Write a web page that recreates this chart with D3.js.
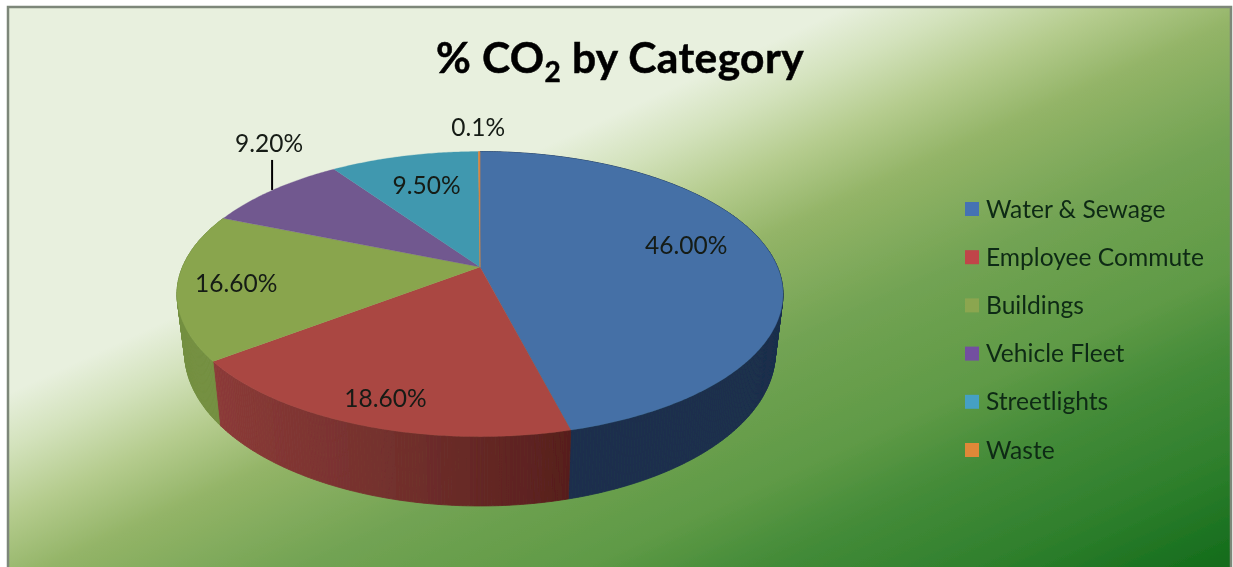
<!DOCTYPE html>
<html><head><meta charset="utf-8">
<script src="https://cdn.jsdelivr.net/npm/d3@7"></script>
<style>html,body{margin:0;padding:0;background:#fff;overflow:hidden}svg{display:block}text{font-family:Lato,"Open Sans",sans-serif}</style>
</head><body><svg id="c" width="1233" height="567"></svg>
<script>
const categories = ["Water & Sewage","Employee Commute","Buildings","Vehicle Fleet","Streetlights","Waste"];
const shares = [46.0,18.6,16.6,9.2,9.5,0.1];
const shareLabels = ["46.00%","18.60%","16.60%","9.20%","9.50%","0.1%"];
const topColors = ["#4470a6","#aa4643","#89a54e","#71588f","#4198af","#db843d"];
const legendColors = ["#4472b4","#c0444a","#8ba650","#7350a0","#44a0c4","#e08838"];
const titleParts = ["% CO","2"," by Category"];

const root=d3.select("#c");
const defs=root.append("defs");
defs.append("filter").attr("id","soft")
  .attr("filterUnits","userSpaceOnUse").attr("x",0).attr("y",0).attr("width",1233).attr("height",567)
  .append("feGaussianBlur").attr("stdDeviation",0.45);
const svg=root.append("g").attr("filter","url(#soft)");

// background gradient (stops are distances along the gradient direction)
const bgStops=[[-20,"#e8f0de"],[30,"#d3e2bc"],[90,"#b5cc8e"],[155,"#93b467"],[260,"#72a353"],[378,"#5f9a46"],[448,"#458c39"],[550,"#2e7f2c"],[643,"#146c1c"]];
const nx=0.418,ny=0.908,ox=400,oy=235;
const offset=d3.scaleLinear().domain([-20,643]).range([0,1]);
const bg=defs.append("linearGradient").attr("id","bg").attr("gradientUnits","userSpaceOnUse")
 .attr("x1",ox-20*nx).attr("y1",oy-20*ny).attr("x2",ox+643*nx).attr("y2",oy+643*ny);
bgStops.forEach(s=>bg.append("stop").attr("offset",offset(s[0])).attr("stop-color",s[1]));
svg.append("rect").attr("x",8).attr("y",7).attr("width",1223).attr("height",580)
 .attr("fill","url(#bg)").attr("stroke","#7d8779").attr("stroke-width",2.5);

// perspective projection of the pie plane
const k=-0.19;
function projector(cx,cy,B,A){
  const sx=d3.scaleLinear().domain([-1,1]).range([cx-B,cx+B]);
  const sy=d3.scaleLinear().domain([-1,1]).range([cy-A,cy+A]);
  return (a,r=1)=>{
    const u=r*Math.sin(a),v=-r*Math.cos(a),den=1+k*v;
    return [sx(u/den),sy(v/den)];
  };
}
const topP=projector(480,267,297.5,137.4);
const botP=projector(480,323,290,148.2);
const pie=d3.pie().sort(null).value(d=>d)(shares);
const line=d3.line();
const arcAngles=(a0,a1)=>{const n=Math.max(2,Math.ceil((a1-a0)/0.01));return d3.range(n+1).map(i=>a0+(a1-a0)*i/n);};

// walls: one quad per angle step between the top rim and the bottom rim
const redShade=d3.scaleLinear().domain([215,390,568]).range(["#8c3a38","#73302d","#571f1d"]);
const wallFill=[()=>"#1b2f4d",x=>redShade(x),()=>"#738f41",null,null,null];
const walls=svg.append("g");
pie.forEach((d,i)=>{
  if(!wallFill[i])return;
  d3.pairs(arcAngles(d.startAngle,d.endAngle)).forEach(([a,b])=>{
    const c=wallFill[i](botP((a+b)/2)[0]);
    walls.append("path").attr("d",line([topP(a),topP(b),botP(b),botP(a)])+"Z")
      .attr("fill",c).attr("stroke",c).attr("stroke-width",0.8);
  });
});

// top surface
const tops=svg.append("g");
pie.forEach((d,i)=>{
  const pts=[topP(0,0)].concat(arcAngles(d.startAngle,d.endAngle).map(a=>topP(a)));
  tops.append("path").attr("d",line(pts)+"Z").attr("fill",topColors[i]).attr("stroke",topColors[i]).attr("stroke-width",i===5?0.6:0.3);
});

// data labels : radial fraction and nudge
const labelPlace=[[0.7,3,-11],[0.85,3,0],[0.8,-3,1],[1,-4,-47],[0.7,2,-1],[1,-1,-25]];
pie.forEach((d,i)=>{
  const m=(d.startAngle+d.endAngle)/2,p=topP(m,labelPlace[i][0]);
  svg.append("text").attr("x",p[0]+labelPlace[i][1]).attr("y",p[1]+labelPlace[i][2])
    .attr("text-anchor","middle").attr("dominant-baseline","central")
    .attr("font-size",24.5).attr("fill","#141a14").text(shareLabels[i]);
});
// leader line for Vehicle Fleet
{const d=pie[3],p=topP((d.startAngle+d.endAngle)/2);
 svg.append("line").attr("x1",p[0]-1).attr("x2",p[0]-1).attr("y1",p[1]).attr("y2",p[1]-30).attr("stroke","#000").attr("stroke-width",2);}

// title
const t=svg.append("text").attr("x",436).attr("y",73).attr("font-size",42.5).attr("font-weight",700).attr("letter-spacing",0.4)
  .attr("fill","#000").attr("stroke","#000").attr("stroke-width",0.5);
t.append("tspan").text(titleParts[0]);
t.append("tspan").attr("font-size",28).attr("dy",9).text(titleParts[1]);
t.append("tspan").attr("dy",-9).text(titleParts[2]);

// legend
const yL=d3.scalePoint().domain(categories).range([209,450]);
const lg=svg.append("g");
categories.forEach((c,i)=>{
  lg.append("rect").attr("x",965).attr("y",yL(c)-7).attr("width",14).attr("height",14).attr("fill",legendColors[i]);
  lg.append("text").attr("x",986).attr("y",yL(c)-1).attr("dominant-baseline","central")
    .attr("font-size",24.6).attr("fill","#0f2a14").text(c);
});
</script></body></html>
